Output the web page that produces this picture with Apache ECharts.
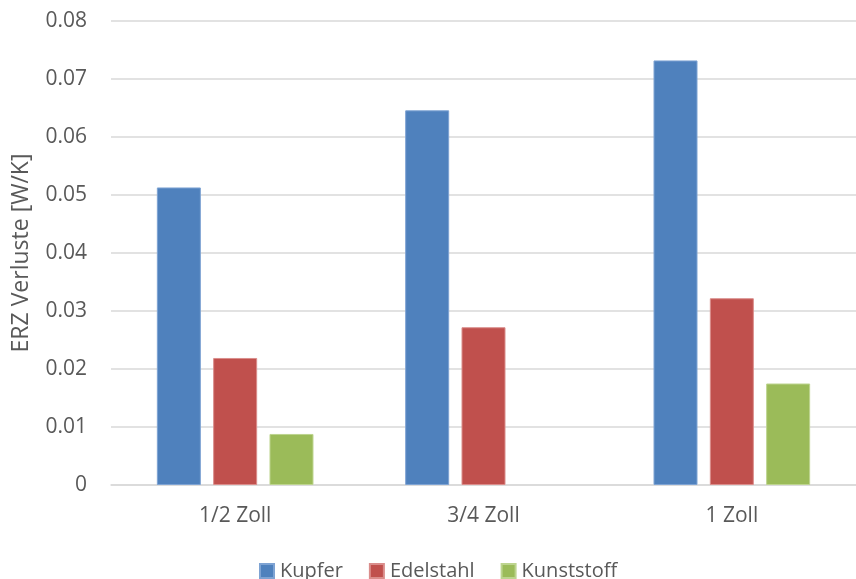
<!DOCTYPE html>
<html>
<head>
<meta charset="utf-8">
<script src="https://cdn.jsdelivr.net/npm/echarts@6/dist/echarts.min.js"></script>
<style>
html,body{margin:0;padding:0;background:#fff;}
#chart{width:856px;height:579px;}
</style>
</head>
<body>
<div id="chart"></div>
<script>
const categories = ['1/2 Zoll', '3/4 Zoll', '1 Zoll'];
const kupfer = [0.0513, 0.0646, 0.0732];
const edelstahl = [0.0219, 0.0272, 0.0322];
const kunststoff = [0.0088, null, 0.0175];
const yTicks = { min: 0, max: 0.08, interval: 0.01 };

const FONT = '"Open Sans", sans-serif';
const TXT = '#595959';

const chart = echarts.init(document.getElementById('chart'), null, { renderer: 'canvas' });

function bar(name, data, color, border) {
  return {
    name: name,
    type: 'bar',
    data: data,
    barWidth: 44,
    barGap: '28%',
    itemStyle: { color: color, borderColor: border, borderWidth: 1 }
  };
}

chart.setOption({
  animation: false,
  backgroundColor: '#ffffff',
  textStyle: { fontFamily: FONT },
  grid: { left: 111, top: 21, width: 757, height: 464, containLabel: false },
  legend: {
    left: 259,
    top: 561,
    padding: 0,
    itemWidth: 14,
    itemHeight: 14,
    itemGap: 26,
    icon: 'rect',
    textStyle: { fontFamily: FONT, fontSize: 20, color: TXT, padding: [0, 0, 0, 1] },
    data: ['Kupfer', 'Edelstahl', 'Kunststoff']
  },
  xAxis: {
    type: 'category',
    data: categories,
    axisLine: { show: true, lineStyle: { color: '#D9D9D9', width: 1.5 } },
    axisTick: { show: false },
    axisLabel: { color: TXT, fontFamily: FONT, fontSize: 21, margin: 21 }
  },
  yAxis: {
    type: 'value',
    min: yTicks.min,
    max: yTicks.max,
    interval: yTicks.interval,
    name: 'ERZ Verluste [W/K]',
    nameLocation: 'middle',
    nameGap: 78,
    nameTextStyle: { color: TXT, fontFamily: FONT, fontSize: 23 },
    axisLine: { show: false },
    axisTick: { show: false },
    splitLine: { lineStyle: { color: '#D9D9D9', width: 1.5 } },
    axisLabel: {
      color: TXT, fontFamily: FONT, fontSize: 21, margin: 24,
      formatter: function (v) { return v === 0 ? '0' : v.toFixed(2); }
    }
  },
  series: [
    bar('Kupfer', kupfer, '#4F81BD', '#7EA3D3'),
    bar('Edelstahl', edelstahl, '#C0504D', '#DA8D8B'),
    bar('Kunststoff', kunststoff, '#9BBB59', '#BDD48F')
  ]
});
</script>
</body>
</html>
